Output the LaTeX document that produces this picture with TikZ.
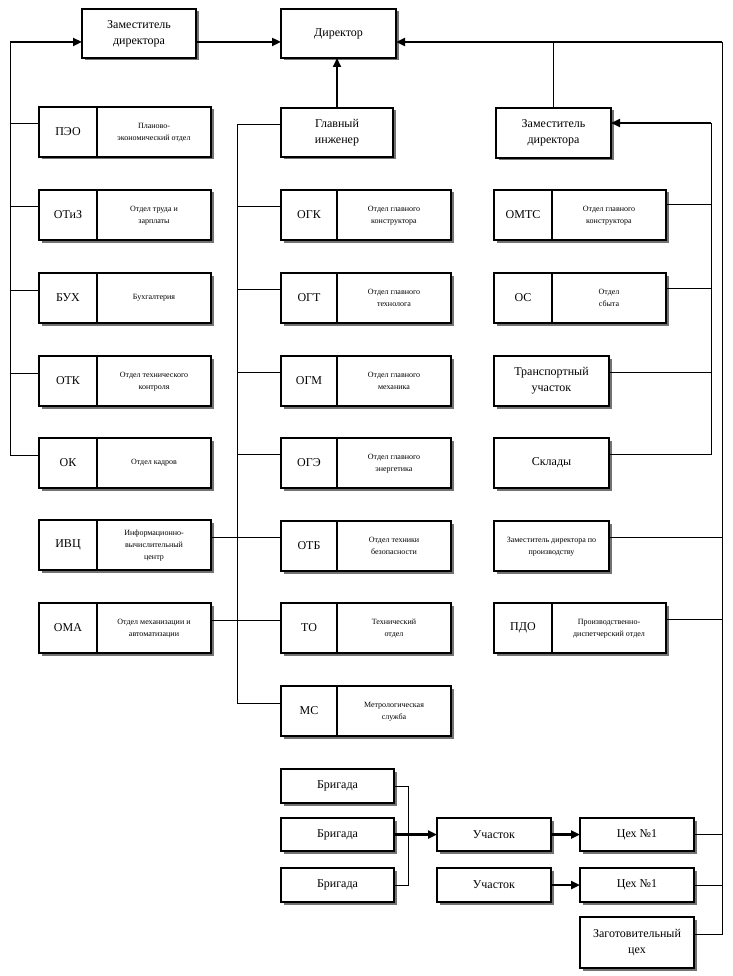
\documentclass[tikz,border=0pt]{standalone}
\usepackage{fontspec}
\setmainfont{Liberation Serif}
\usetikzlibrary{arrows.meta,shadows,calc}
\newcommand\bxat[6]{\node[bx, minimum width=#4pt, minimum height=#5pt] (#1) at (#2,#3) {#6};}
\newcommand\dtxt[1]{\raisebox{5pt}{\fontsize{8}{12}\selectfont\begin{tabular}{@{}c@{}}#1\end{tabular}}}
\newcommand\splitbx[6]{%
  \node[bx, minimum width=#4pt, minimum height=50pt] (#1) at (#2,#3) {#5};
  \node[bx, minimum width=114pt, minimum height=50pt] (#1d) at (#1.north east) {\dtxt{#6}};}
\begin{document}
\begin{tikzpicture}[x=1pt,y=-1pt,
  bx/.style={draw=black, line width=1.1pt, fill=white, inner sep=1pt, outer sep=0pt, anchor=north west,
    align=center, font=\fontsize{12}{16}\selectfont,
    drop shadow={shadow xshift=2.5pt, shadow yshift=-2.5pt, fill=black!55, opacity=1}},
  thin/.style={line width=1pt, draw=black},
  thk/.style={line width=2.4pt, draw=black, -{Triangle[length=9pt, width=8pt]}},
  med/.style={line width=1.8pt, draw=black, -{Triangle[length=9pt, width=8pt]}}]
\useasboundingbox[fill=white] (0,0) rectangle (732,976);

% top row
\bxat{zamA}{82}{9}{114}{49}{Заместитель\\директора}
\bxat{dir}{281}{9}{115}{49}{Директор}
\bxat{gi}{281}{108}{112}{49}{Главный\\инженер}
\bxat{zamB}{496}{108}{115}{50}{Заместитель\\директора}

% left column
\splitbx{peo}{39}{107}{58}{ПЭО}{Планово-\\экономический отдел}
\splitbx{otiz}{39}{190}{58}{ОТиЗ}{Отдел труда и\\зарплаты}
\splitbx{buh}{39}{273}{58}{БУХ}{Бухгалтерия}
\splitbx{otk}{39}{356}{58}{ОТК}{Отдел технического\\контроля}
\splitbx{ok}{39}{438}{58}{ОК}{Отдел кадров}
\splitbx{ivc}{39}{520}{58}{ИВЦ}{Информационно-\\вычислительный\\центр}
\splitbx{oma}{39}{603}{58}{ОМА}{Отдел механизации и\\автоматизации}

% centre column
\splitbx{ogk}{281}{190}{56}{ОГК}{Отдел главного\\конструктора}
\splitbx{ogt}{281}{273}{56}{ОГТ}{Отдел главного\\технолога}
\splitbx{ogm}{281}{356}{56}{ОГМ}{Отдел главного\\механика}
\splitbx{oge}{281}{438}{56}{ОГЭ}{Отдел главного\\энергетика}
\splitbx{otb}{281}{521}{56}{ОТБ}{Отдел техники\\безопасности}
\splitbx{to}{281}{603}{56}{ТО}{Технический\\отдел}
\splitbx{ms}{281}{686}{56}{МС}{Метрологическая\\служба}

% right column
\splitbx{omts}{494}{190}{58}{ОМТС}{Отдел главного\\конструктора}
\splitbx{os}{494}{273}{58}{ОС}{Отдел\\сбыта}
\bxat{tr}{494}{356}{115}{50}{Транспортный\\участок}
\bxat{skl}{494}{438}{115}{50}{Склады}
\bxat{zp}{494}{521}{115}{50}{\dtxt{Заместитель директора по\\производству}}
\splitbx{pdo}{494}{603}{58}{ПДО}{Производственно-\\диспетчерский отдел}

% bottom
\bxat{bA}{281}{769}{113}{34}{Бригада}
\bxat{bB}{281}{818}{113}{33}{Бригада}
\bxat{bC}{281}{868}{113}{34}{Бригада}
\bxat{uA}{437}{818}{114}{33}{Участок}
\bxat{uB}{437}{868}{114}{34}{Участок}
\bxat{cA}{580}{818}{114}{33}{Цех №1}
\bxat{cB}{580}{868}{114}{34}{Цех №1}
\bxat{zag}{580}{917}{114}{51}{Заготовительный\\цех}

% coordinates
\coordinate (lt) at (10,42);
\coordinate (rt) at (722,42);
\coordinate (cs) at (237,0);
\coordinate (rst) at (711,123);
\coordinate (bx) at (408,0);

% top line
\draw[thk] (lt) -- (lt -| zamA.west);
\draw[thk] (lt -| zamA.east) -- (lt -| dir.west);
\draw[thk] (rt) -- (rt -| dir.east);
\draw[thin] (zamB.north) -- (zamB.north |- rt);
\draw[med] (gi.north) -- (gi.north |- dir.south);

% left spine
\draw[thin] (lt) |- ([yshift=8pt]ok.west);
\foreach \n in {peo,otiz,buh,otk}{
  \draw[thin] ([yshift=8pt]\n.west) -- ([yshift=8pt]\n.west -| lt);
}

% centre spine
\draw[thin] ([yshift=7.5pt]gi.west) -| ([yshift=7.5pt]ms.west -| cs) -- ([yshift=7.5pt]ms.west);
\foreach \n in {ogk,ogt,ogm,oge}{
  \draw[thin] ([yshift=8.5pt]\n.west) -- ([yshift=8.5pt]\n.west -| cs);
}
\draw[thin] ([yshift=8pt]ivcd.east) -- ([yshift=8pt]ivcd.east -| otb.west);
\draw[thin] ([yshift=8pt]omad.east) -- ([yshift=8pt]omad.east -| to.west);

% right inner spine
\draw[thin] ([yshift=9pt]skl.east) -| (rst);
\draw[med] (rst) -- (rst -| zamB.east);
\draw[thin] ([yshift=10pt]omtsd.east) -- ([yshift=10pt]omtsd.east -| rst);
\draw[thin] ([yshift=10pt]osd.east) -- ([yshift=10pt]osd.east -| rst);
\draw[thin] ([yshift=8.5pt]tr.east) -- ([yshift=8.5pt]tr.east -| rst);

% right outer spine
\draw[thin] (rt) |- ([yshift=8.5pt]zag.east);
\draw[thin] ([yshift=9pt]zp.east) -- ([yshift=9pt]zp.east -| rt);
\draw[thin] ([yshift=9pt]pdod.east) -- ([yshift=9pt]pdod.east -| rt);
\draw[thin] (cA.east) -- (cA.east -| rt);
\draw[thin] (cB.east) -- (cB.east -| rt);

% bottom
\draw[thin] (bA.east) -- (bA.east -| bx) -- (bC.east -| bx) -- (bC.east);
\draw[thk] (bB.east) -- (bB.east -| uA.west);
\draw[thk] (uA.east) -- (uA.east -| cA.west);
\draw[thk] (uB.east) -- (uB.east -| cB.west);
\end{tikzpicture}
\end{document}
